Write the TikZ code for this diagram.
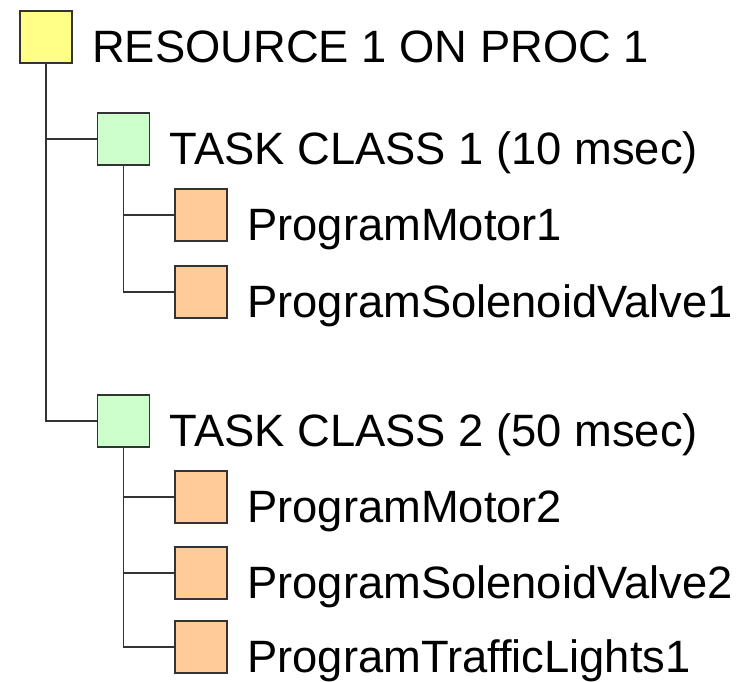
\documentclass[tikz,border=0pt]{standalone}
\usepackage{fontspec}
\setmainfont{Liberation Sans}
\usepackage{tikz}
\tikzset{%
  tbox/.style={draw=edge,line width=1.2pt,minimum size=39pt,inner sep=0pt,fill=#1},
  tbox/.default=c2,
  lbl/.style={anchor=base west,inner sep=0pt,xshift=14pt,yshift=1pt,
    font=\fontsize{34}{40}\selectfont}
}
\definecolor{edge}{rgb}{0.2,0.2,0.2}
\definecolor{c0}{rgb}{1,1,0.53}
\definecolor{c1}{rgb}{0.8,1,0.8}
\definecolor{c2}{rgb}{1,0.8,0.6}

\begin{document}
\begin{tikzpicture}[x=0.75pt,y=-0.75pt,line width=1.2pt]
  \useasboundingbox (0,0) rectangle (747,682);
  % Resource
  \node[tbox=c0] (r) at (46,37) {};
  \node[lbl] (rl) at (r.south east) {RESOURCE 1 ON PROC 1};
  % Task classes
  \node[tbox=c1] (t1) at (123.5,139) {};
  \node[lbl] (t1l) at (t1.south east) {TASK CLASS 1 (10 msec)};
  \node[tbox=c1] (t2) at (123.5,421) {};
  \node[lbl] (t2l) at (t2.south east) {TASK CLASS 2 (50 msec)};
  % Programs
  \node[tbox] (p11) at (201,215) {};
  \node[lbl] (p11l) at (p11.south east) {ProgramMotor1};
  \node[tbox] (p12) at (201,292) {};
  \node[lbl] (p12l) at (p12.south east) {ProgramSolenoidValve1};
  \node[tbox] (p21) at (201,497) {};
  \node[lbl] (p21l) at (p21.south east) {ProgramMotor2};
  \node[tbox] (p22) at (201,573) {};
  \node[lbl] (p22l) at (p22.south east) {ProgramSolenoidValve2};
  \node[tbox] (p23) at (201,647) {};
  \node[lbl] (p23l) at (p23.south east) {ProgramTrafficLights1};
  % Tree lines
  \draw[edge] (r.south) |- (t1.west);
  \draw[edge] (r.south) |- (t2.west);
  \foreach \p in {p11,p12}
    \draw[edge] (t1.south) |- (\p.west);
  \foreach \p in {p21,p22,p23}
    \draw[edge] (t2.south) |- (\p.west);
\end{tikzpicture}
\end{document}
